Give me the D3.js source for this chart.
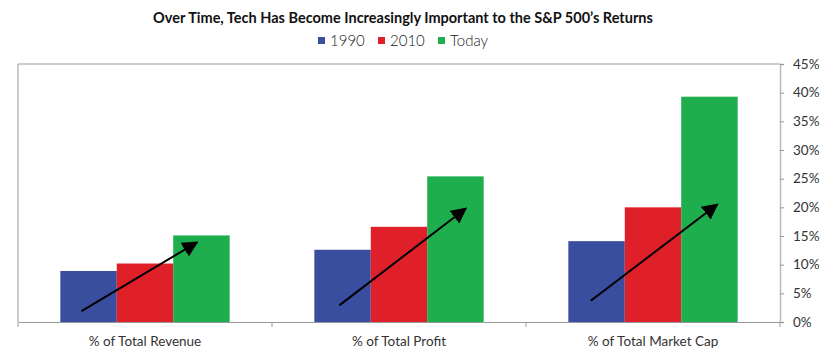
<!DOCTYPE html>
<html><head><meta charset="utf-8">
<script src="https://cdn.jsdelivr.net/npm/d3@7"></script>
<style>body{margin:0;background:#fff;}svg{display:block;}</style>
</head><body>
<svg id="c" width="840" height="359"></svg>
<script>
const categories = ["% of Total Revenue", "% of Total Profit", "% of Total Market Cap"];
const seriesNames = ["1990", "2010", "Today"];
const values1990 = [8.9, 12.6, 14.1];
const values2010 = [10.2, 16.6, 20.0];
const valuesToday = [15.1, 25.4, 39.3];
const yTicks = [0, 5, 10, 15, 20, 25, 30, 35, 40, 45];
// trend arrows: [category, start position within band (0-1), start value, end position, end value]
const arrows = [
  ["% of Total Revenue", 0.25, 1.9, 0.705, 13.9],
  ["% of Total Profit", 0.265, 2.9, 0.763, 19.8],
  ["% of Total Market Cap", 0.255, 3.7, 0.753, 20.5]
];
const colors = ["#3a4ea0", "#df2028", "#1fae4e"];

const series = [values1990, values2010, valuesToday];
const svg = d3.select("#c");
const m = {l: 18, r: 60, t: 64, b: 37};
const W = 840, H = 359;
const x = d3.scaleBand().domain(categories).range([m.l, W - m.r]).paddingInner(0).paddingOuter(0);
const xs = d3.scaleBand().domain(seriesNames).range([0, x.bandwidth()]).paddingInner(0).paddingOuter(0.75);
const y = d3.scaleLinear().domain([0, 45]).range([H - m.b, m.t]);
const font = "Lato, 'Open Sans', sans-serif";

// border box lines
svg.append("line").attr("x1", m.l).attr("x2", W - m.r).attr("y1", y(45)).attr("y2", y(45)).attr("stroke", "#999").attr("stroke-width", 1);
svg.append("line").attr("x1", m.l).attr("x2", m.l).attr("y1", y(45)).attr("y2", y(0)).attr("stroke", "#999").attr("stroke-width", 1);

// bars
const g = svg.append("g");
categories.forEach((c, i) => {
  seriesNames.forEach((s, j) => {
    g.append("rect")
      .attr("x", x(c) + xs(s))
      .attr("y", y(series[j][i]))
      .attr("width", xs.bandwidth())
      .attr("height", y(0) - y(series[j][i]))
      .attr("fill", colors[j]);
  });
});

// x axis
const xa = svg.append("g").attr("transform", `translate(0,${y(0)})`)
  .call(d3.axisBottom(x).tickSize(0).tickPadding(14));
xa.select(".domain").attr("stroke", "#999");
xa.selectAll("text").attr("font-family", font).attr("font-size", 13.5).attr("fill", "#333");
// category separator ticks
const sep = [...categories.map(c => x(c)), x(categories[categories.length - 1]) + x.bandwidth()];
xa.selectAll(".sep").data(sep).enter().append("line").attr("class", "sep")
  .attr("x1", d => d).attr("x2", d => d).attr("y1", 0).attr("y2", 5).attr("stroke", "#999");

// right y axis
const ya = svg.append("g").attr("transform", `translate(${W - m.r},0)`)
  .call(d3.axisRight(y).tickValues(yTicks).tickFormat(d => d + "%").tickSize(4).tickPadding(9));
ya.select(".domain").attr("stroke", "#bbb").attr("stroke-width", 1.5);
ya.selectAll(".tick line").attr("stroke", "#999");
ya.selectAll("text").attr("font-family", font).attr("font-size", 13.5).attr("fill", "#333");

// arrows
const defs = svg.append("defs");
defs.append("marker").attr("id", "ah").attr("viewBox", "0 0 10 10").attr("refX", 9).attr("refY", 5)
  .attr("markerWidth", 8).attr("markerHeight", 8).attr("markerUnits", "strokeWidth").attr("orient", "auto")
  .append("path").attr("d", "M0,0 L10,5 L0,10 z").attr("fill", "#000");
arrows.forEach(a => {
  svg.append("line")
    .attr("x1", x(a[0]) + a[1] * x.bandwidth()).attr("y1", y(a[2]))
    .attr("x2", x(a[0]) + a[3] * x.bandwidth()).attr("y2", y(a[4]))
    .attr("stroke", "#000").attr("stroke-width", 2).attr("marker-end", "url(#ah)");
});

// title
svg.append("text").attr("x", 403).attr("y", 23).attr("text-anchor", "middle")
  .attr("font-family", font).attr("font-weight", 700).attr("font-size", 14.5).attr("fill", "#111")
  .text("Over Time, Tech Has Become Increasingly Important to the S&P 500\u2019s Returns");

// legend
const lg = svg.append("g");
let lx = 318;
const itemW = [60, 60, 60];
seriesNames.forEach((s, j) => {
  lg.append("rect").attr("x", lx).attr("y", 37).attr("width", 7).attr("height", 7).attr("fill", colors[j]);
  lg.append("text").attr("x", lx + 12).attr("y", 46).attr("font-family", font).attr("font-size", 15)
    .attr("font-weight", 300).attr("fill", "#222").text(s);
  lx += itemW[j];
});
</script>
</body></html>
